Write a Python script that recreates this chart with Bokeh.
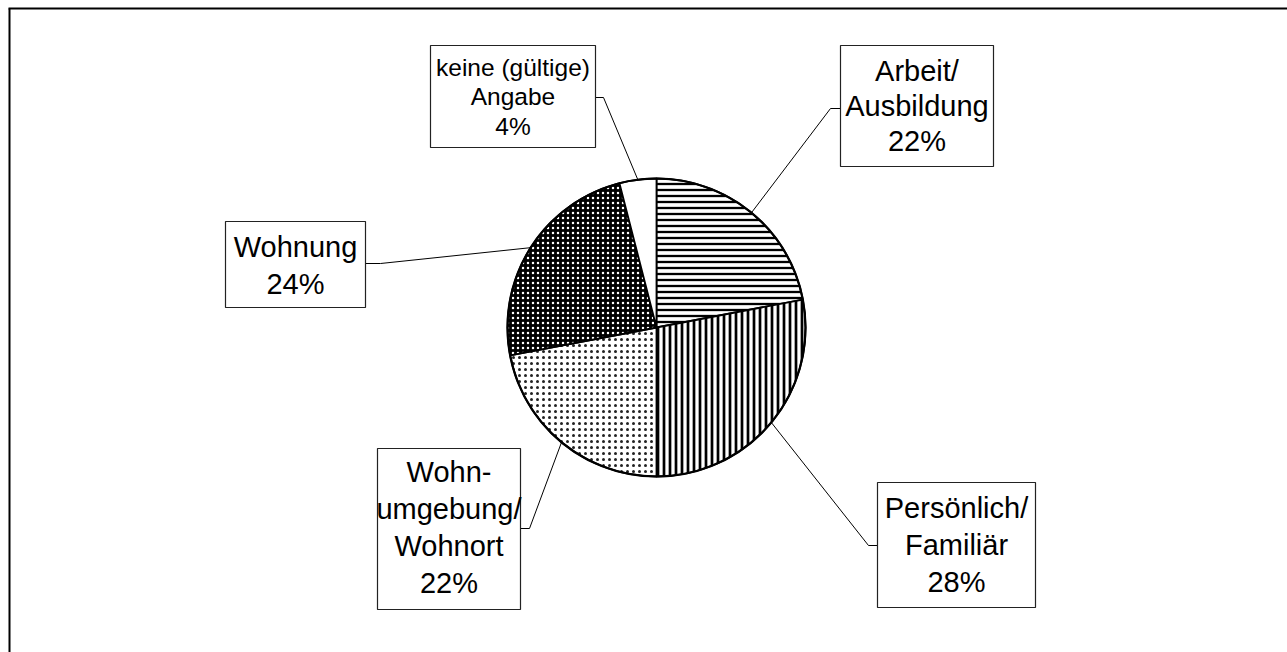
import math
from bokeh.plotting import figure
from bokeh.models import Range1d
from bokeh.embed import file_html
from bokeh.resources import INLINE
from bokeh.core.properties import value

# ---------------- data ----------------
categories = ["Arbeit/ Ausbildung", "Persönlich/ Familiär", "Wohnumgebung/ Wohnort",
              "Wohnung", "keine (gültige) Angabe"]
label_lines = [["Arbeit/", "Ausbildung"],
               ["Persönlich/", "Familiär"],
               ["Wohn-", "umgebung/", "Wohnort"],
               ["Wohnung"],
               ["keine (gültige)", "Angabe"]]
values = [22, 28, 22, 24, 4]

# ---------------- styles ----------------
fills = ["white", "white", "white", "black", "white"]
hatches = ["horizontal_line", "vertical_line", "dot", "dot", " "]
hatch_colors = ["black", "black", "#222222", "white", "black"]
hatch_scales = [6, 6, 6, 5, 6]
hatch_weights = [2.3, 2.7, 1.2, 0.7, 1]

# ---------------- layout (screen px) ----------------
W, H = 1287, 652
def X(sx): return sx
def Y(sy): return H - sy

pie_cx, pie_cy, pie_r = X(656), Y(327), 149
boxes = [(840, 45, 993, 166), (877, 482, 1035, 607), (377, 448, 520, 609),
         (225, 221, 365, 307), (430, 45, 595, 147)]
box_anchor = [(840, 108), (877, 545), (520, 528), (365, 263), (595, 97)]
elbow = [(830, 108), (868, 545), (529, 528), (380, 263), (603, 97)]
text_cy = [105, 544, 527, 265, 96]
font_px = [29, 29, 29, 29, 24.5]
spacing = [35, 37, 37, 37, 29.5]

p = figure(width=W, height=H, x_range=Range1d(0, W), y_range=Range1d(0, H),
           output_backend="svg", toolbar_location=None, min_border=0,
           outline_line_color=None, x_axis_location=None, y_axis_location=None)
p.grid.visible = False
p.background_fill_color = "white"
p.border_fill_color = "white"

# frame (top and left edges)
p.multi_line(xs=[[X(9), X(9)], [X(8), W]], ys=[[0, Y(8)], [Y(8), Y(8)]],
             line_color="black", line_width=2)

total = sum(values)
cum = 0.0
mids = []
for i, v in enumerate(values):
    c0 = cum / total
    c1 = (cum + v) / total
    cum += v
    start = math.pi / 2 - 2 * math.pi * c1
    end = math.pi / 2 - 2 * math.pi * c0
    p.wedge(x=pie_cx, y=pie_cy, radius=pie_r, start_angle=start, end_angle=end,
            fill_color=fills[i], hatch_pattern=hatches[i], hatch_color=hatch_colors[i],
            hatch_scale=hatch_scales[i], hatch_weight=hatch_weights[i],
            line_color="black", line_width=1.8)
    mids.append(math.pi / 2 - 2 * math.pi * (c0 + c1) / 2)

p.circle(x=pie_cx, y=pie_cy, radius=pie_r, fill_color=None, line_color="black", line_width=2.2)

# leader lines
xs, ys = [], []
for i, a in enumerate(mids):
    px = pie_cx + pie_r * math.cos(a)
    py = pie_cy + pie_r * math.sin(a)
    xs.append([px, X(elbow[i][0]), X(box_anchor[i][0])])
    ys.append([py, Y(elbow[i][1]), Y(box_anchor[i][1])])
p.multi_line(xs=xs, ys=ys, line_color="black", line_width=1)

# boxes
p.quad(left=[X(b[0]) for b in boxes], right=[X(b[2]) for b in boxes],
       top=[Y(b[1]) for b in boxes], bottom=[Y(b[3]) for b in boxes],
       fill_color="white", line_color="#222222", line_width=1.2)

# texts
for i, lines in enumerate(label_lines):
    all_lines = lines + [f"{values[i]}%"]
    n = len(all_lines)
    cx = (X(boxes[i][0]) + X(boxes[i][2])) / 2
    tx = [cx] * n
    ty = [Y(text_cy[i] + (k - (n - 1) / 2) * spacing[i]) for k in range(n)]
    p.text(x=tx, y=ty, text=all_lines, text_font=value("Liberation Sans"),
           text_font_size=f"{font_px[i]}px", text_align="center",
           text_baseline="middle", text_color="black")

open("out.html", "w").write(file_html(p, INLINE))
